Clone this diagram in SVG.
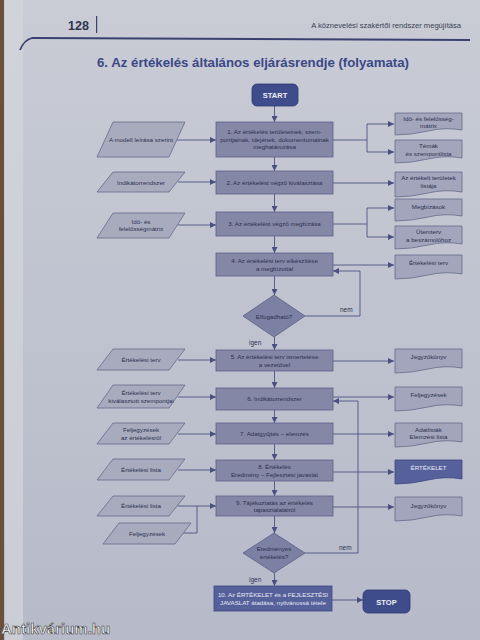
<svg xmlns="http://www.w3.org/2000/svg" width="480" height="640" viewBox="0 0 480 640">
<defs>
<linearGradient id="pg" x1="0" y1="0" x2="0" y2="1">
<stop offset="0" stop-color="#c9ccd5"/>
<stop offset="1" stop-color="#b6bac9"/>
</linearGradient>
<marker id="ar" markerUnits="userSpaceOnUse" markerWidth="6" markerHeight="6" refX="6" refY="3" orient="auto">
<path d="M0,0 L6,3 L0,6 z" fill="#4a5082"/>
</marker>
<style>
.t{font-family:"Liberation Sans",Arial,sans-serif;fill:#2d3150;font-size:6.2px;text-anchor:middle}
.lab{font-family:"Liberation Sans",Arial,sans-serif;fill:#2d3150;font-size:6.5px}
.box{fill:#8487a6;stroke:#5c6089;stroke-width:0.8}
.dark{fill:#56619c;stroke:#3d4780;stroke-width:0.8}
.term{fill:#3f4c8c;stroke:#2d3870;stroke-width:0.8}
.par{fill:#a8abbe;stroke:#666b8c;stroke-width:0.8}
.doc{fill:#a2a5bb;stroke:#666b8c;stroke-width:0.8}
.dia{fill:#7c80a2;stroke:#5c6089;stroke-width:0.8}
#conn path{fill:none;stroke:#4d5381;stroke-width:0.9}
.arr{marker-end:url(#ar)}
</style>
</defs>
<rect x="0" y="0" width="480" height="640" fill="url(#pg)"/>
<rect x="5" y="0" width="18" height="640" fill="#d4d6dc" opacity="0.7"/>
<rect x="0" y="0" width="4" height="640" fill="#6b4f3a"/>

<!-- header -->
<text x="68" y="30" font-family="Liberation Sans,Arial,sans-serif" font-weight="bold" font-size="12.5" fill="#2e3350">128</text>
<rect x="96" y="16" width="1.2" height="17" fill="#3a4070"/>
<text x="461" y="28" font-family="Liberation Sans,Arial,sans-serif" font-size="7.6" fill="#3a3e55" text-anchor="end">A köznevelési szakértői rendszer megújítása</text>
<path d="M20,50 Q24,40 32,38 L470,40" fill="none" stroke="#3a4070" stroke-width="1.8"/>
<text x="97" y="67" font-family="Liberation Sans,Arial,sans-serif" font-weight="bold" font-size="12.5" fill="#3b4886" textLength="312" lengthAdjust="spacingAndGlyphs">6. Az értékelés általános eljárásrendje (folyamata)</text>

<!-- connectors -->
<g id="conn">
<path class="arr" d="M274.5,106 V122"/>
<path class="arr" d="M274.5,157 V171"/>
<path class="arr" d="M274.5,194 V212"/>
<path class="arr" d="M274.5,236 V253"/>
<path class="arr" d="M274.5,276 V295"/>
<path class="arr" d="M274.5,337 V350"/>
<path class="arr" d="M274.5,371 V388"/>
<path class="arr" d="M274.5,410 V423"/>
<path class="arr" d="M274.5,444 V460"/>
<path class="arr" d="M274.5,481 V496"/>
<path class="arr" d="M274.5,516 V533"/>
<path class="arr" d="M274.5,573 V586"/>
<path class="arr" d="M332,600 H363"/>
<path class="arr" d="M305,316 H360 V271 H333"/>
<path class="arr" d="M305,553 H358 V401 H333"/>
<path class="arr" d="M177,140 H216"/>
<path class="arr" d="M178,182 H216"/>
<path class="arr" d="M178,225 H216"/>
<path class="arr" d="M178,360 H216"/>
<path class="arr" d="M178,397 H216"/>
<path class="arr" d="M178,434 H216"/>
<path class="arr" d="M178,470 H216"/>
<path class="arr" d="M178,506 H216"/>
<path d="M181,533 H197 V506"/>
<path d="M333,140 H367 M367,124 V152"/>
<path class="arr" d="M367,124 H394"/>
<path class="arr" d="M367,152 H394"/>
<path class="arr" d="M333,183 H394"/>
<path d="M333,224 H367 M367,208 V237"/>
<path class="arr" d="M367,208 H394"/>
<path class="arr" d="M367,237 H394"/>
<path class="arr" d="M333,265 H394"/>
<path class="arr" d="M333,361 H394"/>
<path class="arr" d="M333,397 H394"/>
<path class="arr" d="M333,434 H394"/>
<path class="arr" d="M333,472 H394"/>
<path class="arr" d="M333,507 H394"/>
</g>

<!-- terminals -->
<g id="start"><rect class="term" x="252" y="84" width="46" height="22" rx="5"/><text class="t" x="275" y="98" font-weight="bold" style="font-size:7.5px;fill:#eef0f8">START</text></g>
<g id="stop"><rect class="term" x="363" y="590" width="47" height="23" rx="5"/><text class="t" x="386.5" y="604.5" font-weight="bold" style="font-size:7.5px;fill:#eef0f8">STOP</text></g>

<!-- process boxes -->
<g id="b1"><rect class="box" x="216" y="122" width="117" height="35"/><text class="t" x="274.5" y="134">1. Az értékelés területeinek, szem-</text><text class="t" x="274.5" y="141.5">pontjainak, idejének, dokumentumainak</text><text class="t" x="274.5" y="149">meghatározása</text></g>
<g id="b2"><rect class="box" x="216" y="171" width="117" height="23"/><text class="t" x="274.5" y="184.5">2. Az értékelést végző kiválasztása</text></g>
<g id="b3"><rect class="box" x="216" y="212" width="117" height="24"/><text class="t" x="274.5" y="226">3. Az értékelést végző megbízása</text></g>
<g id="b4"><rect class="box" x="216" y="253" width="117" height="23"/><text class="t" x="274.5" y="263">4. Az értékelési terv elkészítése</text><text class="t" x="274.5" y="270.5">a megbízottal</text></g>
<g id="d1"><path class="dia" d="M274,295 L305,316 L274,337 L243,316 Z"/><text class="t" x="274" y="318.5">Elfogadható?</text></g>
<g id="b5"><rect class="box" x="216" y="350" width="117" height="21"/><text class="t" x="274.5" y="359">5. Az értékelési terv ismertetése</text><text class="t" x="274.5" y="366.5">a vezetővel</text></g>
<g id="b6"><rect class="box" x="216" y="388" width="117" height="22"/><text class="t" x="274.5" y="401">6. Indikátorrendszer</text></g>
<g id="b7"><rect class="box" x="216" y="423" width="117" height="21"/><text class="t" x="274.5" y="436">7. Adatgyűjtés – elemzés</text></g>
<g id="b8"><rect class="box" x="216" y="460" width="117" height="21"/><text class="t" x="274.5" y="469">8. Értékelés</text><text class="t" x="274.5" y="476.5">Eredmény – Fejlesztési javaslat</text></g>
<g id="b9"><rect class="box" x="216" y="496" width="117" height="20"/><text class="t" x="274.5" y="504.5">9. Tájékoztatás az értékelés</text><text class="t" x="274.5" y="512">tapasztalatairól</text></g>
<g id="d2"><path class="dia" d="M274,533 L305,553 L274,573 L243,553 Z"/><text class="t" x="274" y="551">Eredményes</text><text class="t" x="274" y="558.5">értékelés?</text></g>
<g id="b10"><rect class="dark" x="214" y="586" width="118" height="25"/><text class="t" x="273" y="597" style="fill:#e6e8f2">10. Az ÉRTÉKELET és a FEJLESZTÉSI</text><text class="t" x="273" y="605" style="fill:#e6e8f2">JAVASLAT átadása, nyilvánossá tétele</text></g>

<!-- branch labels -->
<text class="lab" x="340" y="312">nem</text>
<text class="lab" x="249" y="345">igen</text>
<text class="lab" x="339" y="550">nem</text>
<text class="lab" x="249" y="582">igen</text>

<!-- inputs -->
<g id="p1"><polygon class="par" points="113,122 185,122 169,157 97,157"/><text class="t" x="141" y="142">A modell leírása szerint</text></g>
<g id="p2"><polygon class="par" points="113,172 185,172 169,192 97,192"/><text class="t" x="141" y="184.5">Indikátorrendszer</text></g>
<g id="p3"><polygon class="par" points="113,213 185,213 169,238 97,238"/><text class="t" x="141" y="223.5">Idő- és</text><text class="t" x="141" y="231">felelősségmátrix</text></g>
<g id="p4"><polygon class="par" points="113,349 185,349 169,370 97,370"/><text class="t" x="141" y="362">Értékelési terv</text></g>
<g id="p5"><polygon class="par" points="113,385 185,385 169,408 97,408"/><text class="t" x="141" y="395">Értékelési terv</text><text class="t" x="141" y="402.5">kiválasztott szempontjai</text></g>
<g id="p6"><polygon class="par" points="113,423 185,423 169,444 97,444"/><text class="t" x="141" y="432">Feljegyzések</text><text class="t" x="141" y="439.5">az értékelésről</text></g>
<g id="p7"><polygon class="par" points="113,459 185,459 169,480 97,480"/><text class="t" x="141" y="472">Értékelési lista</text></g>
<g id="p8"><polygon class="par" points="113,496 185,496 169,516 97,516"/><text class="t" x="141" y="508">Értékelési lista</text></g>
<g id="p9"><polygon class="par" points="119,523 191,523 175,544 103,544"/><text class="t" x="147" y="536">Feljegyzések</text></g>

<!-- outputs -->
<g id="o1"><path class="doc" d="M395,113 H462 V130 Q445,127 428,131 T395,135 Z"/><text class="t" x="428.5" y="121">Idő- és felelősség-</text><text class="t" x="428.5" y="128">mátrix</text></g>
<g id="o2"><path class="doc" d="M395,140 H462 V158 Q445,155 428,159 T395,163 Z"/><text class="t" x="428.5" y="148">Témák</text><text class="t" x="428.5" y="155.5">és szempontlista</text></g>
<g id="o3"><path class="doc" d="M395,172 H462 V192 Q445,189 428,193 T395,197 Z"/><text class="t" x="428.5" y="180">Az értékelt területek</text><text class="t" x="428.5" y="187.5">listája</text></g>
<g id="o4"><path class="doc" d="M395,199 H462 V216 Q445,213 428,217 T395,221 Z"/><text class="t" x="428.5" y="209">Megbízások</text></g>
<g id="o5"><path class="doc" d="M395,226 H462 V244 Q445,241 428,245 T395,249 Z"/><text class="t" x="428.5" y="234">Ütemterv</text><text class="t" x="428.5" y="241.5">a beszámolóhoz</text></g>
<g id="o6"><path class="doc" d="M395,255 H462 V274 Q445,271 428,275 T395,279 Z"/><text class="t" x="428.5" y="265">Értékelési terv</text></g>
<g id="o7"><path class="doc" d="M395,349 H462 V368 Q445,365 428,369 T395,373 Z"/><text class="t" x="428.5" y="359">Jegyzőkönyv</text></g>
<g id="o8"><path class="doc" d="M395,387 H462 V406 Q445,403 428,407 T395,411 Z"/><text class="t" x="428.5" y="397">Feljegyzések</text></g>
<g id="o9"><path class="doc" d="M395,423 H462 V442 Q445,439 428,443 T395,447 Z"/><text class="t" x="428.5" y="431.5">Adatlisták</text><text class="t" x="428.5" y="439">Elemzési lista</text></g>
<g id="o10"><path class="dark" d="M395,460 H462 V479 Q445,476 428,480 T395,484 Z"/><text class="t" x="428.5" y="470" style="fill:#e6e8f2">ÉRTÉKELET</text></g>
<g id="o11"><path class="doc" d="M395,497 H462 V516 Q445,513 428,517 T395,521 Z"/><text class="t" x="428.5" y="508">Jegyzőkönyv</text></g>

<!-- watermark -->
<text x="1" y="634" font-family="Liberation Sans,Arial,sans-serif" font-weight="bold" font-size="15" fill="#f4f4f4" stroke="#3a3a3a" stroke-width="0.6">Antikvárium.hu</text>
</svg>
